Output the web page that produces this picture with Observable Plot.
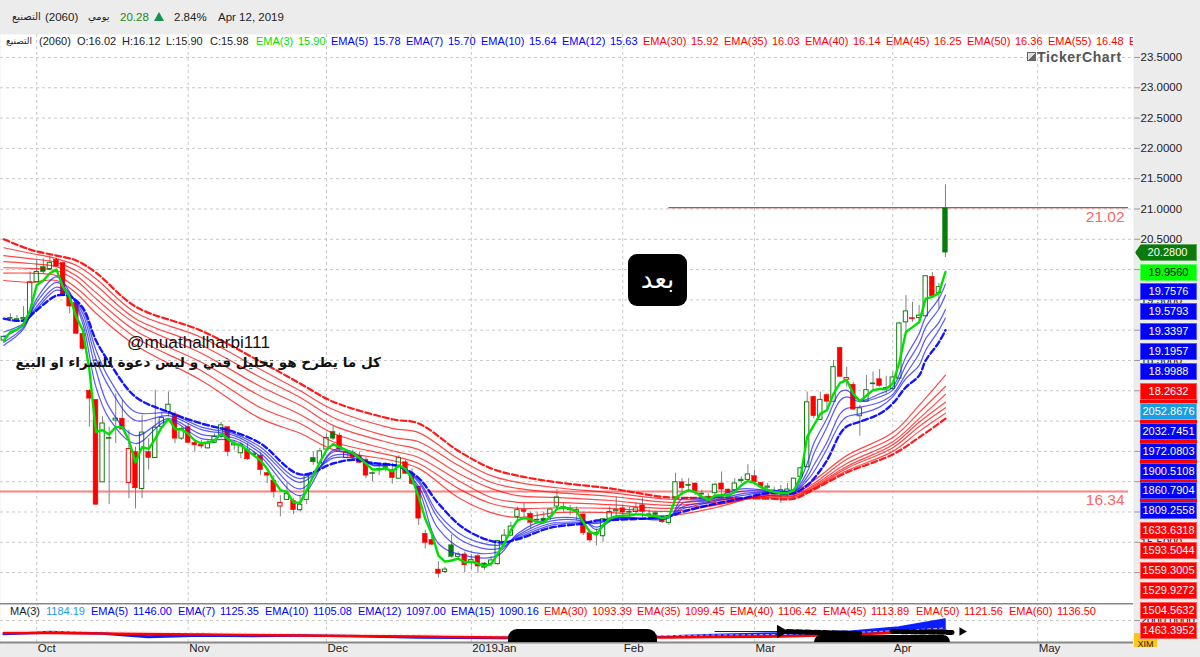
<!DOCTYPE html>
<html><head><meta charset="utf-8">
<script src="https://cdn.jsdelivr.net/npm/d3@7"></script>
<script src="https://cdn.jsdelivr.net/npm/@observablehq/plot@0.6"></script>
<style>
html,body{margin:0;padding:0;background:#ececec;overflow:hidden}
#page{position:relative;width:1200px;height:657px;font-family:"Liberation Sans","DejaVu Sans",sans-serif;background:#ececec;overflow:hidden}
#main,#lower{position:absolute;left:0}
#main{top:34px}#lower{top:603px}
svg{display:block}
.abs{position:absolute;white-space:nowrap}
#legend,#legend2{position:absolute;height:14px;line-height:14px;font-size:11px;overflow:hidden}
#legend{left:0;top:34px;width:1133px}
#legend2{left:0;top:604px;width:1133px}
.hd{top:10px;font-size:11.5px;color:#222;line-height:14px}
.box{position:absolute;left:1140px;width:57px;height:17px;line-height:17px;text-align:center;font-size:11px;color:#fff;box-shadow:0 0 0 1px rgba(255,255,255,.35) inset}
</style></head>
<body><div id="page">
<div id="main"></div><div id="lower"></div>
<div id="legend"></div><div id="legend2"></div>
<div class="abs hd" style="left:12px;font:10px/14px 'DejaVu Sans'">التصنيع</div>
<div class="abs hd" style="left:45px">(2060)</div>
<div class="abs hd" style="left:88px;font:10px/14px 'DejaVu Sans'">يومي</div>
<div class="abs hd" style="left:120px;color:#1a8a1a">20.28</div>
<div class="abs" style="left:154px;top:12px;width:0;height:0;border-left:5.5px solid transparent;border-right:5.5px solid transparent;border-bottom:9px solid #12924a"></div>
<div class="abs hd" style="left:174px">2.84%</div>
<div class="abs hd" style="left:218px">Apr 12, 2019</div>
<div class="abs" style="left:1027px;top:52px;width:9px;height:9px;background:linear-gradient(135deg,#ddd 50%,#666 50%);border:1px solid #666;box-sizing:border-box"></div>
<div class="abs" style="left:1037px;top:49px;font:bold 14px 'Liberation Sans';color:#555;letter-spacing:.65px">TickerChart</div>
<div class="abs" style="left:127px;top:332px;font:17.2px 'Liberation Sans';color:#111">@muathalharbi111</div>
<div class="abs" dir="rtl" style="left:8px;width:373px;top:354px;font:bold 13.6px 'DejaVu Sans';color:#111;text-align:right">كل ما يطرح هو تحليل فني  و ليس دعوة للشراء او البيع</div>
<div class="abs" style="left:628px;top:254px;width:59px;height:52px;background:#000;border-radius:9px;color:#fff;font:26px 'DejaVu Sans';text-align:center;line-height:50px">بعد</div>
<div class="abs" style="left:508px;top:629px;width:149px;height:13px;background:#000;border-radius:9px 9px 0 0"></div>
<div class="abs" style="left:814px;top:635px;width:136px;height:7px;background:#000;border-radius:7px 7px 0 0"></div>
<div class="abs" style="left:1134px;top:633px;width:23px;height:14px;background:#ffc61a;font-size:9px;line-height:22px;color:#222;text-align:center;overflow:hidden">XIM</div>
<div id="labels"></div>
</div>
<script>
const opens=[18.83,19.19,19.16,19.18,19.27,19.79,20.04,20.01,20.16,20.11,
19.55,19.45,18.94,18.00,17.85,16.49,17.21,17.51,17.54,16.48,
16.99,16.38,16.99,16.89,17.40,17.65,17.61,17.21,17.40,17.14,
17.11,17.05,17.14,17.24,17.40,17.10,16.97,17.02,16.94,16.93,
16.64,16.52,16.09,16.20,16.18,16.03,16.20,16.89,16.80,17.03,
17.32,17.26,16.89,16.97,16.92,16.86,16.63,16.70,16.73,16.69,
16.55,16.82,16.60,16.42,15.64,15.54,15.05,15.01,15.45,15.26,
15.30,15.16,15.27,15.15,15.14,15.14,15.50,15.61,15.92,16.03,
15.97,15.86,15.89,15.92,16.09,16.05,16.03,16.00,15.96,15.65,
15.63,15.60,15.89,16.01,16.06,15.99,16.00,16.11,15.94,15.98,
15.89,15.82,16.24,16.49,16.45,16.47,16.29,16.22,16.31,16.47,
16.37,16.36,16.51,16.53,16.59,16.48,16.40,16.32,16.31,16.33,
16.30,16.58,16.74,17.90,17.52,17.93,17.82,18.71,18.18,18.10,
17.58,17.82,18.11,18.19,18.05,18.03,18.20,19.13,19.20,19.20,
19.23,19.88,19.61,21.01];
const highs=[18.91,19.27,19.24,19.39,19.96,20.15,20.18,20.21,20.18,20.12,
19.57,19.46,18.94,18.02,17.85,17.57,17.40,17.95,17.84,17.35,
17.07,17.59,17.21,18.01,17.65,17.98,17.65,17.40,17.46,17.18,
17.18,17.18,17.29,17.48,17.40,17.18,17.15,17.13,17.00,16.98,
16.66,16.60,16.27,16.47,16.22,16.27,16.60,16.99,17.05,17.29,
17.41,17.30,17.02,17.02,16.99,16.91,16.66,16.77,16.82,16.80,
16.93,16.85,16.71,16.42,15.70,15.61,15.18,15.09,15.62,15.34,
15.34,15.30,15.30,15.17,15.26,15.53,15.71,15.83,16.08,16.14,
16.00,16.00,16.00,16.05,16.37,16.14,16.11,16.08,15.96,15.70,
15.72,15.88,16.08,16.25,16.11,16.08,16.15,16.22,16.03,16.00,
15.90,15.94,16.64,16.55,16.55,16.48,16.36,16.30,16.47,16.66,
16.38,16.55,16.58,16.78,16.69,16.49,16.47,16.41,16.44,16.47,
16.55,16.74,17.98,17.91,17.98,17.95,18.50,18.72,18.39,18.14,
17.76,18.25,18.31,18.35,18.24,18.31,19.13,19.57,19.46,19.41,
19.89,19.95,19.77,21.40];
const lows=[18.80,19.13,19.13,19.15,19.27,19.79,19.93,19.99,20.04,19.55,
19.27,18.93,18.67,17.40,16.11,16.49,16.12,17.13,17.35,16.22,
16.05,16.22,16.69,16.88,17.40,17.57,17.13,17.18,17.13,16.99,
17.04,17.04,17.13,17.21,16.91,17.02,16.88,16.85,16.91,16.60,
16.47,16.23,15.92,16.19,15.96,16.00,16.12,16.77,16.79,17.02,
17.18,17.00,16.88,16.86,16.80,16.55,16.50,16.60,16.66,16.46,
16.54,16.62,16.44,15.78,15.39,15.45,14.91,14.98,15.24,15.23,
15.00,15.05,14.99,15.04,15.09,15.12,15.49,15.59,15.83,15.90,
15.72,15.81,15.83,15.86,16.05,16.00,15.94,15.86,15.61,15.50,
15.44,15.50,15.86,15.89,15.89,15.90,15.94,15.90,15.89,15.86,
15.81,15.78,16.22,16.27,16.37,16.27,16.22,16.14,16.24,16.27,
16.22,16.30,16.47,16.49,16.47,16.38,16.33,16.25,16.14,16.25,
16.19,16.55,16.73,17.54,17.51,17.70,17.81,18.22,18.06,17.68,
17.25,17.81,18.01,18.06,17.95,18.01,18.18,18.97,19.13,19.16,
19.22,19.55,19.35,20.20];
const closes=[18.89,19.20,19.18,19.20,19.79,19.96,19.96,20.11,20.05,19.56,
19.39,18.94,18.69,17.87,16.12,17.46,17.22,17.54,17.36,17.04,
16.39,17.31,16.89,17.39,17.55,17.77,17.21,17.37,17.14,17.10,
17.08,17.13,17.24,17.43,16.99,17.13,17.11,16.87,16.96,16.69,
16.60,16.33,16.15,16.30,16.03,16.12,16.60,16.82,17.00,17.22,
17.21,17.03,16.98,16.89,16.81,16.60,16.64,16.71,16.74,16.56,
16.89,16.63,16.46,15.89,15.49,15.46,14.98,15.05,15.26,15.30,
15.12,15.21,15.10,15.08,15.20,15.52,15.61,15.76,16.03,16.00,
15.82,15.87,15.85,16.04,16.24,16.08,16.05,16.03,15.65,15.53,
15.65,15.88,16.00,16.03,15.99,16.00,16.06,16.00,15.96,15.95,
15.83,15.90,16.49,16.39,16.43,16.34,16.30,16.25,16.45,16.37,
16.31,16.47,16.53,16.62,16.49,16.41,16.42,16.35,16.36,16.37,
16.55,16.72,17.81,17.58,17.85,17.82,18.39,18.23,18.21,17.69,
17.71,18.01,18.12,18.08,18.03,18.22,19.11,19.31,19.18,19.24,
19.89,19.56,19.71,20.28];
const redDays=[8,9,10,11,12,13,14,18,19,20,22,26,28,29,30,34,37,39,40,41,42,44,51,52,53,54,55,59,61,62,63,64,65,66,70,72,79,80,88,89,94,97,100,103,105,109,110,114,115,123,125,127,128,129,133,138,141];
const ema3=[18.83,18.97,19.01,19.10,19.33,19.74,19.82,19.94,20.00,19.71,
19.55,19.22,19.00,18.34,17.32,17.35,17.28,17.40,17.40,17.18,
16.82,17.07,17.04,17.21,17.40,17.54,17.37,17.36,17.29,17.18,
17.13,17.15,17.18,17.29,17.21,17.13,17.10,17.02,16.93,16.85,
16.71,16.52,16.36,16.33,16.16,16.15,16.36,16.60,16.82,17.02,
17.12,17.07,17.02,16.97,16.89,16.80,16.70,16.70,16.72,16.67,
16.77,16.71,16.55,16.25,15.89,15.64,15.28,15.18,15.20,15.23,
15.17,15.18,15.15,15.11,15.14,15.31,15.48,15.70,15.86,15.90,
15.88,15.83,15.83,15.92,16.05,16.08,16.05,16.01,15.83,15.67,
15.63,15.78,15.89,15.93,15.94,15.94,15.96,15.96,15.94,15.93,
15.90,15.92,16.22,16.31,16.36,16.33,16.25,16.20,16.27,16.28,
16.27,16.33,16.44,16.51,16.48,16.41,16.36,16.33,16.31,16.31,
16.36,16.58,17.24,17.43,17.62,17.68,17.95,18.13,18.18,17.95,
17.83,17.92,18.01,18.03,18.03,18.12,18.47,18.97,19.05,19.13,
19.52,19.55,19.61,19.96];
const blueDays=[0,3,5,8,10,12,14,16,20,25,30,35,39,45,50,53,56,60,63,66,70,75,78,83,88,90,93,101,103,107,112,116,120,122,123,125,127,128,130,133,135,137,139,140,142,143];
const ema5=[18.75,19.02,19.52,19.88,19.63,19.11,18.06,17.54,17.13,17.51,17.21,17.18,16.91,16.27,17.02,16.99,16.77,16.76,16.36,15.48,15.28,15.28,15.64,15.89,15.87,15.71,15.90,15.90,16.22,16.22,16.38,16.36,16.38,16.80,17.13,17.54,17.98,18.01,17.84,17.95,18.06,18.56,18.94,19.22,19.52,19.76];
const ema7=[18.80,19.05,19.46,19.79,19.61,19.19,18.34,17.73,17.26,17.54,17.28,17.22,16.97,16.38,16.99,16.96,16.78,16.76,16.42,15.72,15.37,15.34,15.61,15.85,15.85,15.75,15.90,15.91,16.14,16.20,16.34,16.36,16.36,16.66,16.96,17.40,17.84,17.90,17.82,17.90,18.01,18.42,18.78,19.05,19.35,19.58];
const ema10=[18.89,19.08,19.39,19.71,19.59,19.27,18.53,18.06,17.51,17.59,17.36,17.26,17.02,16.49,16.93,16.93,16.78,16.76,16.49,15.89,15.50,15.39,15.59,15.81,15.83,15.81,15.89,15.92,16.08,16.17,16.30,16.34,16.34,16.58,16.77,17.15,17.62,17.71,17.73,17.81,17.94,18.28,18.61,18.86,19.13,19.34];
const ema12=[18.97,19.11,19.35,19.66,19.57,19.33,18.67,18.20,17.65,17.63,17.40,17.29,17.07,16.55,16.89,16.89,16.80,16.76,16.52,15.97,15.59,15.45,15.57,15.78,15.82,15.83,15.88,15.93,16.05,16.15,16.27,16.33,16.33,16.52,16.66,17.04,17.46,17.57,17.62,17.73,17.90,18.20,18.42,18.67,19.00,19.20];
const ema15=[19.19,19.16,19.33,19.57,19.56,19.37,18.83,18.47,17.90,17.65,17.46,17.32,17.13,16.62,16.80,16.86,16.81,16.75,16.56,16.14,15.72,15.50,15.55,15.74,15.81,15.86,15.87,15.93,16.00,16.11,16.22,16.31,16.31,16.44,16.55,16.85,17.29,17.41,17.49,17.62,17.79,18.06,18.25,18.50,18.80,19.00];
const redBandDays=[0,4,8,11,14,20,30,39,45,50,59,63,69,74,78,84,92,101,108,116,120,123,128,135,139,143];
const ema30=[19.82,19.79,19.82,19.61,19.28,18.75,18.17,17.54,17.30,17.03,16.85,16.72,16.24,15.99,15.91,15.99,15.99,15.94,16.07,16.31,16.35,16.52,16.93,17.31,17.76,18.26];
const ema35=[19.94,19.94,19.90,19.70,19.41,18.88,18.33,17.72,17.46,17.16,16.93,16.80,16.39,16.14,16.06,16.07,16.06,16.01,16.11,16.29,16.32,16.47,16.87,17.23,17.64,18.07];
const ema40=[20.03,20.02,19.98,19.82,19.52,18.99,18.47,17.91,17.61,17.30,17.01,16.90,16.52,16.24,16.16,16.16,16.12,16.06,16.12,16.27,16.29,16.44,16.80,17.16,17.54,17.94];
const ema45=[20.13,20.10,20.05,19.90,19.62,19.11,18.62,18.07,17.76,17.43,17.13,17.03,16.64,16.39,16.27,16.24,16.19,16.11,16.16,16.27,16.27,16.42,16.75,17.11,17.48,17.81];
const ema50=[20.23,20.18,20.12,19.98,19.74,19.19,18.75,18.22,17.89,17.56,17.23,17.16,16.77,16.49,16.39,16.32,16.26,16.16,16.19,16.26,16.26,16.40,16.72,17.06,17.41,17.72];
const ema55=[20.36,20.27,20.18,20.07,19.85,19.29,18.88,18.35,18.00,17.69,17.38,17.31,16.88,16.60,16.49,16.40,16.32,16.21,16.21,16.24,16.24,16.39,16.68,17.00,17.33,17.63];
const ema60=[20.50,20.33,20.23,20.15,19.95,19.39,18.99,18.48,18.12,17.82,17.53,17.46,17.01,16.72,16.60,16.49,16.39,16.24,16.24,16.22,16.22,16.37,16.65,16.95,17.23,17.54];
const monthDays=[5,28,49,71,94,114,135,157];
const monthNames=["Oct","Nov","Dec","2019Jan","Feb","Mar","Apr","May"];
const priceTicks=d3.range(15,23.51,0.5);
const levels=[21.02,16.34];
const volDays=[0,7,15,22,30,38,45,53,63,75,101,108,118,129,136,143];
const volRed=[1338,1338,1311,1285,1258,1232,1205,1179,1152,1099,1099,1126,1152,1258,1364,1497];
const volBlueTop=[1258,1390,1311,1152,1232,1179,1205,1179,1099,1072,1152,1232,1311,1417,1629,2052];
const volBlueLow=[1232,1311,1258,1072,1152,1126,1152,1126,1046,1020,1099,1152,1179,1258,1364,1523];
const legendPrice=[["EMA(3)","15.90","#00e000"],["EMA(5)","15.78","#0000ff"],["EMA(7)","15.70","#0000ff"],["EMA(10)","15.64","#0000ff"],["EMA(12)","15.63","#0000ff"],["EMA(30)","15.92","#ff0000"],["EMA(35)","16.03","#ff0000"],["EMA(40)","16.14","#ff0000"],["EMA(45)","16.25","#ff0000"],["EMA(50)","16.36","#ff0000"],["EMA(55)","16.48","#ff0000"]];
const legendVol=[["EMA(5)","1146.00","#0000ff"],["EMA(7)","1125.35","#0000ff"],["EMA(10)","1105.08","#0000ff"],["EMA(12)","1097.00","#0000ff"],["EMA(15)","1090.16","#0000ff"],["EMA(30)","1093.39","#ff0000"],["EMA(35)","1099.45","#ff0000"],["EMA(40)","1106.42","#ff0000"],["EMA(45)","1113.89","#ff0000"],["EMA(50)","1121.56","#ff0000"],["EMA(60)","1136.50","#ff0000"]];
const sideLabels=[["19.9560","#00ff00","#000"],["19.7576","#0000ff","#fff"],["19.5793","#0000ff","#fff"],["19.3397","#0000ff","#fff"],["19.1957","#0000ff","#fff"],["18.9988","#0000ff","#fff"],["18.2632","#ff0000","#fff"],["2052.8676","#1a9be6","#fff"],["2032.7451","#0000ff","#fff"],["1972.0803","#0000ff","#fff"],["1900.5108","#0000ff","#fff"],["1860.7904","#0000ff","#fff"],["1809.2558","#0000ff","#fff"],["1633.6318","#ff0000","#fff"],["1593.5044","#ff0000","#fff"],["1559.3005","#ff0000","#fff"],["1529.9272","#ff0000","#fff"],["1504.5632","#ff0000","#fff"],["1463.3952","#ff0000","#fff"]];
const arrowLead=[[108,1417],[118,1417]];
const arrowTailA=[[119,1417],[130,1311]];
const arrowTailB=[[135,1417],[144,1364]];

const candles=opens.map((o,i)=>({i,o,h:highs[i],l:lows[i],c:closes[i],red:redDays.includes(i),hollow:closes[i]>=o}));
const series=(days,vals)=>days.map((d,k)=>({d,v:vals[k]}));
const pxPerDay=6.585, firstDay=3.3;
const xDomain=w=>[-firstDay/pxPerDay,(w-firstDay)/pxPerDay];
const grid=()=>Plot.gridX(monthDays,{stroke:"#c8c8c8",strokeOpacity:1,strokeDasharray:"3,3"});
const thin=(vals,days,color,w,op,dash)=>Plot.line(series(days,vals),{x:"d",y:"v",stroke:color,strokeWidth:w,strokeOpacity:op,strokeDasharray:dash,curve:"catmull-rom"});

const main=Plot.plot({
  width:1200,height:569,marginLeft:0,marginRight:67,marginTop:0,marginBottom:0,
  style:{background:"transparent",fontFamily:"Liberation Sans",fontSize:"11.5px",color:"#222"},
  x:{domain:xDomain(1133),axis:null},
  y:{domain:[23.879,14.49],range:[0,569],axis:null},
  marks:[
    Plot.frame({fill:"white",stroke:null}),
    grid(),
    Plot.gridY(priceTicks,{stroke:"#c8c8c8",strokeOpacity:1,strokeDasharray:"3,3"}),
    Plot.axisY(priceTicks,{anchor:"right",tickFormat:d3.format(".4f"),tickSize:6,tickPadding:1,label:null,stroke:"#999"}),
    Plot.ruleY([levels[1]],{stroke:"#ff8080",strokeWidth:2,x1:-0.5,x2:170.8}),
    Plot.ruleY([levels[0]],{stroke:"#a01818",strokeWidth:1,x1:101,x2:170.8}),
    Plot.text(levels,{x:170.2,y:d=>d,text:d=>d.toFixed(2),textAnchor:"end",dy:9,fill:"#ff6666",fontSize:15.5}),
    Plot.ruleX(candles,{x:"i",y1:"l",y2:"h",stroke:"#808080",strokeWidth:1}),
    Plot.rect(candles.filter(d=>!d.hollow),{x1:d=>d.i-0.36,x2:d=>d.i+0.36,y1:"o",y2:"c",fill:d=>d.red?"#ff0000":"#0a7a0a",stroke:d=>d.red?"#ff0000":"#0a7a0a",strokeWidth:.5}),
    Plot.rect(candles.filter(d=>d.hollow),{x1:d=>d.i-0.33,x2:d=>d.i+0.33,y1:"o",y2:"c",fill:"white",stroke:d=>d.red?"#ff0000":"#107c10",strokeWidth:1}),
    thin(ema30,redBandDays,"#ff0000",1.2,.72),thin(ema35,redBandDays,"#ff0000",1.2,.72),thin(ema40,redBandDays,"#ff0000",1.2,.72),
    thin(ema45,redBandDays,"#ff0000",1.2,.72),thin(ema50,redBandDays,"#ff0000",1.2,.72),thin(ema55,redBandDays,"#ff0000",1.2,.72),
    thin(ema60,redBandDays,"#ff0000",2.2,.9,"6,3"),
    thin(ema5,blueDays,"#2222ff",1.2,.75),thin(ema7,blueDays,"#2222ff",1.2,.75),thin(ema10,blueDays,"#2222ff",1.2,.75),thin(ema12,blueDays,"#2222ff",1.2,.75),
    thin(ema15,blueDays,"#0000ff",2.4,.92,"6,3"),
    Plot.line(series(d3.range(ema3.length),ema3),{x:"d",y:"v",stroke:"#00e000",strokeWidth:2.4})
  ]
});
document.getElementById("main").appendChild(main);

const lower=Plot.plot({
  width:1200,height:54,marginLeft:0,marginRight:67,marginTop:0,marginBottom:15,
  style:{background:"transparent",fontFamily:"Liberation Sans",fontSize:"11.5px",color:"#222"},
  x:{domain:xDomain(1133),axis:null},
  y:{domain:[2901,834],range:[0,39],axis:null},
  marks:[
    Plot.frame({fill:"white",stroke:null}),
    grid(),
    Plot.gridY([2000],{stroke:"#c8c8c8",strokeOpacity:1,strokeDasharray:"3,3"}),
    Plot.axisY([2000],{anchor:"right",tickFormat:d3.format(".4f"),tickSize:6,tickPadding:1,label:null,stroke:"#999"}),
    Plot.areaY(volDays.map((d,k)=>({d,a:volBlueLow[k],b:volBlueTop[k]})),{x:"d",y1:"a",y2:"b",fill:"#0a1eff",stroke:"#0a1eff",strokeWidth:1.6}),
    Plot.line(series(volDays,volRed),{x:"d",y:"v",stroke:"#ff0000",strokeWidth:2.6}),
    Plot.line(series(volDays,volRed),{x:"d",y:"v",stroke:"#ffd0d0",strokeWidth:.8,strokeDasharray:"3,3",dy:-2}),
    Plot.line(arrowLead,{stroke:"#222",strokeWidth:1}),
    Plot.line(arrowTailA,{stroke:"#000",strokeWidth:5,strokeDasharray:"6,3"}),
    Plot.line(arrowTailB,{stroke:"#000",strokeWidth:5,strokeDasharray:"6,3"}),
    Plot.dot([arrowLead[1]],{symbol:"triangle",r:5,rotate:90,fill:"#000"}),
    Plot.dot([[145.5,1417]],{symbol:"triangle",r:3.2,rotate:90,fill:"#000"}),
    Plot.axisX(monthDays,{anchor:"bottom",tickSize:0,tickPadding:1,textAnchor:"start",tickFormat:d=>monthNames[monthDays.indexOf(d)],label:null,dx:1}),
    Plot.ruleY([2901],{stroke:"#888",strokeWidth:2}),
    Plot.ruleY([834],{stroke:"#888",strokeWidth:2})
  ]
});
document.getElementById("lower").appendChild(lower);

const put=(host,left,text,color,font)=>{const s=document.createElement("span");s.className="abs";s.style.left=left+"px";s.style.color=color;if(font)s.style.font=font;s.textContent=text;host.appendChild(s);};
const lg=document.getElementById("legend");
put(lg,6,"التصنيع","#222","9px/14px 'DejaVu Sans'");
put(lg,39,"(2060)","#222");
put(lg,77,"O:16.02","#222");put(lg,122,"H:16.12","#222");put(lg,166,"L:15.90","#222");put(lg,210,"C:15.98","#222");
let lx=256;
legendPrice.forEach(([a,b,c])=>{const w=a.length===6?75:81;put(lg,lx,a,c);put(lg,lx+w-33,b,c);lx+=w;});
put(lg,lx,"E","#ff0000");
const lg2=document.getElementById("legend2");
put(lg2,10,"MA(3)","#222");put(lg2,46,"1184.19","#1a9be6");
let mx=91;
legendVol.forEach(([a,b,c])=>{const w=a.length===6?87:93;put(lg2,mx,a,c);put(lg2,mx+w-45,b,c);mx+=w;});

const lab=document.getElementById("labels");
const add=(css,txt,col,y)=>{const d=document.createElement("div");d.className="box";d.style.cssText=css+";top:"+y+"px";d.style.background=col[0];d.style.color=col[1];d.textContent=txt;lab.appendChild(d);};
add("left:1135px;width:62px;padding-left:3px;box-sizing:border-box;clip-path:polygon(0 50%,6px 0,100% 0,100% 100%,6px 100%)","20.2800",["#0a7a0a","#fff"],244);
const strip=document.createElement("div");strip.style.cssText="position:absolute;left:1140px;width:57px;top:400px;height:103px;background:#ff0000";lab.appendChild(strip);
sideLabels.forEach(([t,bg,fg],k)=>add("",t,[bg,fg],263.5+k*19.9));
</script>
</body></html>
